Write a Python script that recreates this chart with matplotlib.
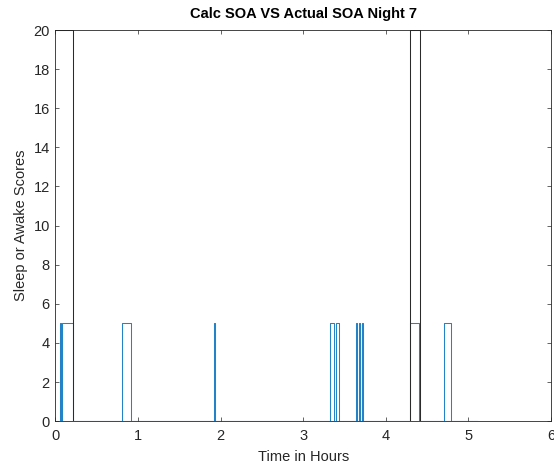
import matplotlib
matplotlib.use("Agg")
import matplotlib.pyplot as plt

plt.rcParams['font.family'] = ['Liberation Sans', 'DejaVu Sans']

# Calculated SOA scores (step changes, hours)
calc_t = [0, 0.06, 0.07, 0.085, 0.21, 0.81, 0.915, 1.915, 1.93,
          3.32, 3.37, 3.40, 3.43, 3.645, 3.655, 3.675, 3.685, 3.71, 3.722,
          4.29, 4.40, 4.70, 4.79, 5.11]
calc_val = [0, 5, 0, 5, 0, 5, 0, 5, 0,
            5, 0, 5, 0, 5, 0, 5, 0, 5, 0,
            5, 0, 5, 0, 0]

# Actual SOA scores (step changes, hours)
actual_t = [0, 0.21, 4.29, 4.41, 5.11]
actual_val = [20, 0, 20, 0, 0]

x_ticks = [0, 1, 2, 3, 4, 5, 6]
y_ticks = [0, 2, 4, 6, 8, 10, 12, 14, 16, 18, 20]

fig = plt.figure(figsize=(5.54, 4.70), dpi=100)
ax = fig.add_axes([0.100, 0.104, 0.8946, 0.832])

ax.plot(calc_t, calc_val, drawstyle='steps-post', color='#2482c6', lw=0.75)
ax.plot(actual_t, actual_val, drawstyle='steps-post', color='#2b2b2b', lw=0.75)

ax.set_xlim(0, 6)
ax.set_ylim(0, 20)
ax.set_xticks(x_ticks)
ax.set_yticks(y_ticks)

axis_col = '#262626'
for s in ax.spines.values():
    s.set_color(axis_col)
    s.set_linewidth(0.6)
ax.tick_params(direction='in', top=True, right=True, length=3, width=0.5,
               colors=axis_col, labelsize=10.5)
ax.tick_params(axis='x', pad=6)
ax.tick_params(axis='y', pad=4)

ax.set_title('Calc SOA VS Actual SOA Night 7', fontsize=10.5,
             fontweight='bold', color='black', pad=9)
ax.set_xlabel('Time in Hours', fontsize=10.5, color=axis_col, labelpad=5)
ax.set_ylabel('Sleep or Awake Scores', fontsize=10.5, color=axis_col, labelpad=4)

fig.savefig('out.png', dpi=100)
